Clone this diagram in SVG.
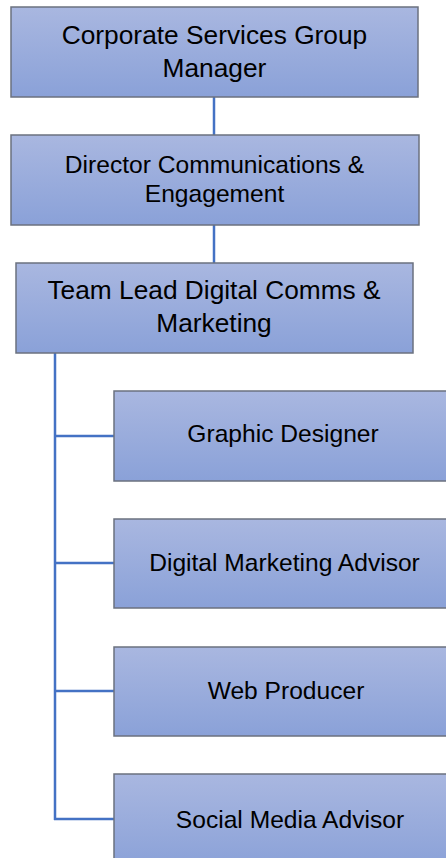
<svg xmlns="http://www.w3.org/2000/svg" width="446" height="858" viewBox="0 0 446 858">
<defs>
<linearGradient id="g" x1="0" y1="0" x2="0" y2="1">
<stop offset="0" stop-color="#a9b7e0"/>
<stop offset="1" stop-color="#8aa1d8"/>
</linearGradient>
<style>
.box{fill:url(#g);stroke:#6b717f;stroke-width:1.5}
.t{font-family:"Liberation Sans",Arial,sans-serif;fill:#000;text-anchor:middle}
.lg{font-size:26.3px}
.md{font-size:24.6px}
.conn line{stroke:#4472c4;stroke-width:2.5}
</style>
</defs>
<rect width="446" height="858" fill="#fff"/>
<g class="conn" id="connectors">
<line x1="214" y1="97" x2="214" y2="135"/>
<line x1="214" y1="225" x2="214" y2="263"/>
<line x1="55" y1="353" x2="55" y2="820"/>
<line x1="54" y1="436" x2="114" y2="436"/>
<line x1="54" y1="563" x2="114" y2="563"/>
<line x1="54" y1="691" x2="114" y2="691"/>
<line x1="54" y1="819" x2="114" y2="819"/>
</g>
<g id="n1">
<rect class="box" x="11" y="7" width="407" height="90"/>
<text class="t lg" x="214.5" y="44">Corporate Services Group</text>
<text class="t lg" x="214.5" y="77">Manager</text>
</g>
<g id="n2">
<rect class="box" x="11" y="135" width="408" height="90"/>
<text class="t md" x="214.5" y="173">Director Communications &amp;</text>
<text class="t md" x="214.5" y="202">Engagement</text>
</g>
<g id="n3">
<rect class="box" x="16" y="263" width="397" height="90"/>
<text class="t lg" x="214" y="299">Team Lead Digital Comms &amp;</text>
<text class="t lg" x="214" y="332">Marketing</text>
</g>
<g id="n4">
<rect class="box" x="114" y="391" width="345" height="90"/>
<text class="t md" x="283" y="442">Graphic Designer</text>
</g>
<g id="n5">
<rect class="box" x="114" y="519" width="345" height="89"/>
<text class="t md" x="284.5" y="571">Digital Marketing Advisor</text>
</g>
<g id="n6">
<rect class="box" x="114" y="647" width="345" height="89"/>
<text class="t md" x="286" y="699">Web Producer</text>
</g>
<g id="n7">
<rect class="box" x="114" y="774" width="345" height="95"/>
<text class="t md" x="290" y="828">Social Media Advisor</text>
</g>
</svg>
